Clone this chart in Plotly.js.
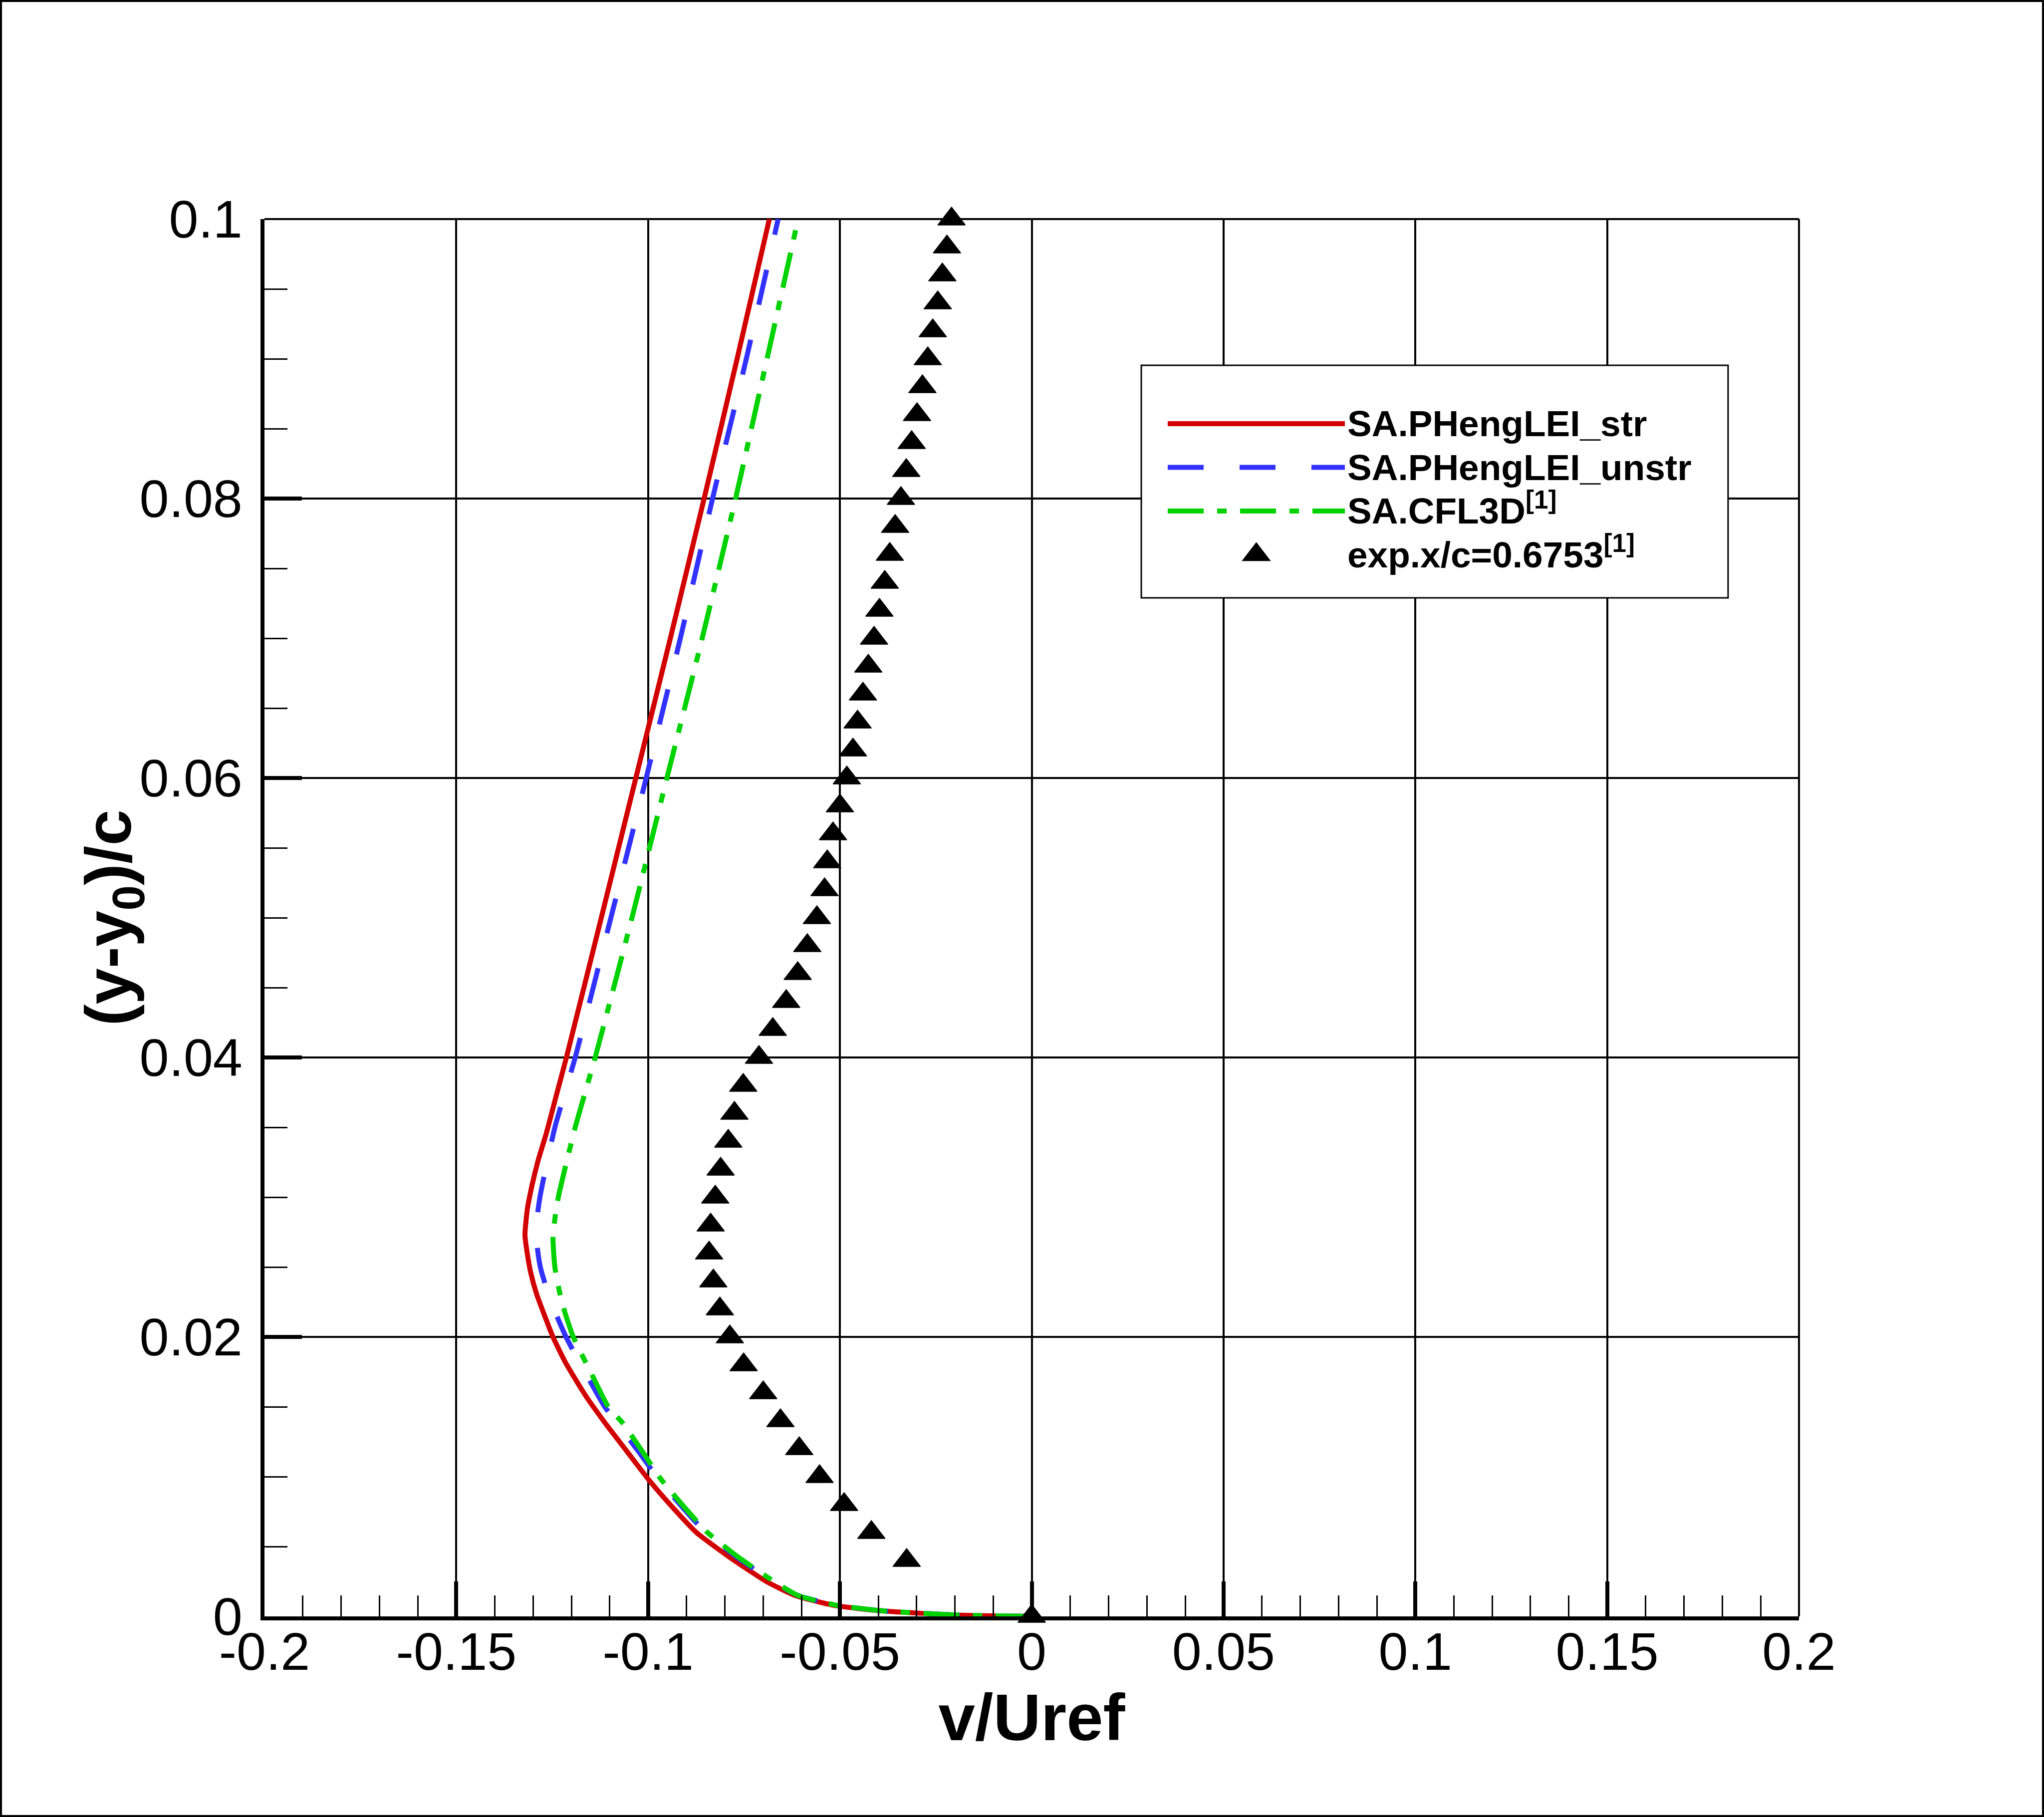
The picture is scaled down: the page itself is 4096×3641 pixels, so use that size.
<!DOCTYPE html>
<html>
<head>
<meta charset="utf-8">
<script src="https://cdn.plot.ly/plotly-3.0.1.min.js"></script>
<style>
html,body{margin:0;padding:0;background:#ffffff;}
#wrap{position:relative;width:4096px;height:3641px;}
#chart{width:4096px;height:3641px;}
#frame{position:absolute;left:0;top:0;width:4096px;height:3641px;box-sizing:border-box;border:4px solid #000;pointer-events:none;}
</style>
</head>
<body>
<div id="wrap"><div id="chart"></div><div id="frame"></div></div>
<script>
// ---- data ----
const seriesNames = ['SA.PHengLEI_str', 'SA.PHengLEI_unstr', 'SA.CFL3D<sup>[1]</sup>', 'exp.x/c=0.6753<sup>[1]</sup>'];

const strX = [0.0000,-0.0200,-0.0394,-0.0518,-0.0617,-0.0692,-0.0791,-0.0874,-0.0936,-0.0999,-0.1055,-0.1111,-0.1163,-0.1214,-0.1248,-0.1291,-0.1306,-0.1314,-0.1321,-0.1315,-0.1303,-0.1287,-0.1265,-0.1242,-0.1213,-0.1122,-0.1032,-0.0942,-0.0854,-0.0768,-0.0684];
const strY = [0.0000,0.0001,0.0004,0.0008,0.0015,0.0025,0.0043,0.0060,0.0078,0.0098,0.0118,0.0138,0.0158,0.0181,0.0200,0.0231,0.0246,0.0258,0.0273,0.0291,0.0308,0.0326,0.0346,0.0370,0.0400,0.0500,0.0600,0.0700,0.0800,0.0900,0.1000];

const unstrX = [0.0000,-0.0200,-0.0390,-0.0510,-0.0610,-0.0675,-0.0772,-0.0850,-0.0910,-0.0972,-0.1025,-0.1080,-0.1113,-0.1165,-0.1214,-0.1253,-0.1281,-0.1293,-0.1282,-0.1243,-0.1190,-0.1097,-0.1005,-0.0916,-0.0832,-0.0744,-0.0661];
const unstrY = [0.0000,0.0001,0.0004,0.0008,0.0015,0.0025,0.0043,0.0060,0.0078,0.0098,0.0118,0.0138,0.0150,0.0175,0.0200,0.0225,0.0250,0.0275,0.0300,0.0350,0.0400,0.0500,0.0600,0.0700,0.0800,0.0900,0.1000];

const cfl3dX = [0.0000,-0.0200,-0.0390,-0.0510,-0.0610,-0.0672,-0.0768,-0.0845,-0.0905,-0.0966,-0.1015,-0.1065,-0.1104,-0.1150,-0.1195,-0.1225,-0.1243,-0.1248,-0.1234,-0.1190,-0.1138,-0.1042,-0.0951,-0.0859,-0.0772,-0.0690,-0.0609];
const cfl3dY = [0.0000,0.0001,0.0004,0.0008,0.0015,0.0025,0.0043,0.0060,0.0078,0.0098,0.0118,0.0138,0.0150,0.0175,0.0200,0.0225,0.0250,0.0273,0.0300,0.0350,0.0400,0.0500,0.0600,0.0700,0.0800,0.0900,0.1000];

const expX = [-0.0209,-0.0221,-0.0233,-0.0245,-0.0258,-0.0271,-0.0285,-0.0299,-0.0313,-0.0327,-0.0341,-0.0356,-0.0370,-0.0383,-0.0397,-0.0411,-0.0426,-0.0440,-0.0454,-0.0466,-0.0482,-0.0500,-0.0518,-0.0533,-0.0540,-0.0560,-0.0585,-0.0610,-0.0640,-0.0675,-0.0711,-0.0752,-0.0775,-0.0791,-0.0811,-0.0825,-0.0837,-0.0841,-0.0830,-0.0813,-0.0787,-0.0751,-0.0700,-0.0655,-0.0606,-0.0553,-0.0489,-0.0418,-0.0326,0.0000];
const expY = [0.100,0.098,0.096,0.094,0.092,0.090,0.088,0.086,0.084,0.082,0.080,0.078,0.076,0.074,0.072,0.070,0.068,0.066,0.064,0.062,0.060,0.058,0.056,0.054,0.052,0.050,0.048,0.046,0.044,0.042,0.040,0.038,0.036,0.034,0.032,0.030,0.028,0.026,0.024,0.022,0.020,0.018,0.016,0.014,0.012,0.010,0.008,0.006,0.004,0.000];

const xTickVals = [-0.2,-0.15,-0.1,-0.05,0,0.05,0.1,0.15,0.2];
const xTickText = ['-0.2','-0.15','-0.1','-0.05','0','0.05','0.1','0.15','0.2'];
const yTickVals = [0,0.02,0.04,0.06,0.08,0.1];
const yTickText = ['0','0.02','0.04','0.06','0.08','0.1'];

const xTitle = 'v/Uref';
const yTitle = '(y-y<sub>0</sub>)/c';

// ---- styling ----
const FONT = 'Liberation Sans, Arial, Helvetica, sans-serif';
const legendLabel = function (s) { return '<span style="font-size:73px">' + s + '</span>'; };

const traces = [
  {x: strX, y: strY, name: legendLabel(seriesNames[0]), mode: 'lines', type: 'scatter',
   line: {color: '#d20000', width: 10, shape: 'spline', smoothing: 0.5}, cliponaxis: false},
  {x: unstrX, y: unstrY, name: legendLabel(seriesNames[1]), mode: 'lines', type: 'scatter',
   line: {color: '#3232ff', width: 10, dash: '72px,72px', shape: 'spline', smoothing: 0.5}, cliponaxis: false},
  {x: cfl3dX, y: cfl3dY, name: legendLabel(seriesNames[2]), mode: 'lines', type: 'scatter',
   line: {color: '#00d200', width: 10, dash: '72px,27px,19px,27px', shape: 'spline', smoothing: 0.5}, cliponaxis: false},
  {x: expX, y: expY, name: legendLabel(seriesNames[3]), mode: 'markers', type: 'scatter',
   marker: {symbol: 'triangle-up', size: 48, color: '#000000', line: {width: 1.5, color: '#000000'}}, cliponaxis: false}
];

const axisCommon = {
  showgrid: true, gridcolor: '#000000', gridwidth: 4,
  zeroline: false,
  showline: true, linecolor: '#000000', linewidth: 8,
  ticks: 'inside', tickcolor: '#000000', tickwidth: 8,
  tickmode: 'array',
  tickfont: {family: FONT, size: 106, color: '#000000'},
  automargin: false, fixedrange: true
};

const layout = {
  width: 4096, height: 3641,
  paper_bgcolor: '#ffffff', plot_bgcolor: '#ffffff',
  margin: {l: 530, r: 491, t: 439, b: 402, pad: 0},
  showlegend: true,
  xaxis: Object.assign({}, axisCommon, {
    range: [-0.2, 0.2], tickvals: xTickVals, ticktext: xTickText, ticklen: 70,
    minor: {dtick: 0.01, tick0: 0, ticks: 'inside', ticklen: 42, tickwidth: 3, tickcolor: '#000000', showgrid: false},
    ticklabelstandoff: -28,
    title: {text: xTitle, font: {family: FONT, size: 132, weight: 'bold', color: '#000000'}, standoff: 8}
  }),
  yaxis: Object.assign({}, axisCommon, {
    range: [0, 0.1], tickvals: yTickVals, ticktext: yTickText, ticklen: 75,
    minor: {dtick: 0.005, tick0: 0, ticks: 'inside', ticklen: 46, tickwidth: 3, tickcolor: '#000000', showgrid: false},
    ticklabelstandoff: 15,
    title: {text: yTitle, font: {family: FONT, size: 130, weight: 'bold', color: '#000000'}, standoff: 0}
  }),
  legend: {
    x: 0.587, y: 0.871, xanchor: 'left', yanchor: 'top',
    bgcolor: 'rgba(0,0,0,0)', borderwidth: 0,
    font: {family: FONT, size: 65, weight: 'bold', color: '#000000'},
    itemwidth: 355, tracegroupgap: 0
  },
  shapes: [
    // legend frame (white box)
    {type: 'rect', xref: 'paper', yref: 'paper', x0: 0.5714, x1: 0.9538, y0: 0.7289, y1: 0.8954,
     fillcolor: '#ffffff', line: {color: '#000000', width: 3}, layer: 'above'},
    // top and right frame lines of plot box
    {type: 'line', xref: 'paper', yref: 'paper', x0: 0, x1: 1, y0: 1, y1: 1, line: {color: '#000000', width: 4}, layer: 'below'},
    {type: 'line', xref: 'paper', yref: 'paper', x0: 1, x1: 1, y0: 0, y1: 1, line: {color: '#000000', width: 4}, layer: 'below'}
  ]
};

Plotly.newPlot('chart', traces, layout, {displayModeBar: false, staticPlot: true}).then(function () {
  // enlarge the legend's triangle symbol to match the plotted markers (legend caps marker size at 16)
  const items = document.querySelectorAll('.legend .traces');
  if (items.length) {
    const last = items[items.length - 1];
    const p = last.querySelector('.legendpoints path');
    if (p) {
      const t = p.getAttribute('transform') || '';
      p.setAttribute('transform', t + ' scale(3)');
      p.style.strokeWidth = '0.5px';
    }
  }
  // nudge the y-axis title closer to its tick labels, as in the reference
  const yt = document.querySelector('.g-ytitle text');
  if (yt) {
    const tr = yt.getAttribute('transform') || '';
    yt.setAttribute('transform', 'translate(24,0) ' + tr);
  }
});
</script>
</body>
</html>
